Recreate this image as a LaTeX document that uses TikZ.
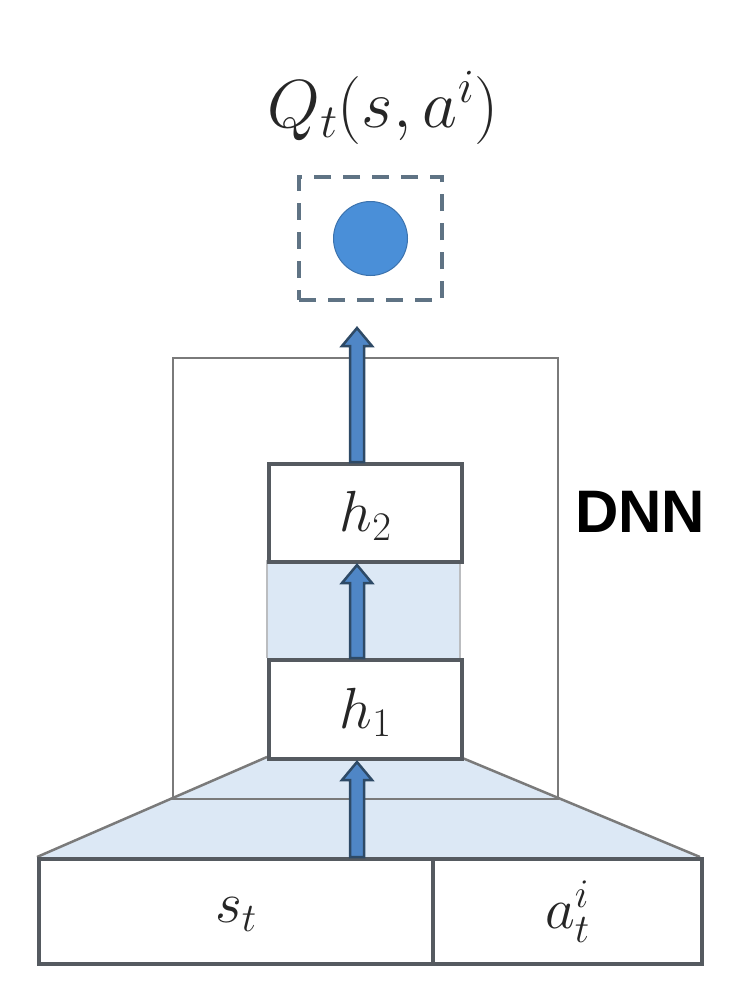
\RequirePackage{fix-cm}
\documentclass[tikz,border=0pt]{standalone}
\usepackage{fontspec}
\usetikzlibrary{calc}
\definecolor{lightfill}{HTML}{DCE8F5}
\definecolor{arrowblue}{HTML}{4F86C6}
\definecolor{arrowline}{HTML}{2E4A66}
\definecolor{boxline}{HTML}{555A60}
\definecolor{outerline}{HTML}{7A7A7A}
\definecolor{dashline}{HTML}{5F7384}
\definecolor{dotblue}{HTML}{4A8FD8}
\newfontfamily\dnnfont{Liberation Sans}
\newcommand\blockarrow[2]{%
  \path let \p1=#1, \p2=#2 in
    [draw=arrowline, fill=arrowblue, line width=2.5pt, line join=miter]
    (\x1-7pt,\y1) -- (\x1-7pt,\y2-18pt) -- (\x1-15pt,\y2-18pt) -- (\x1,\y2)
    -- (\x1+15pt,\y2-18pt) -- (\x1+7pt,\y2-18pt) -- (\x1+7pt,\y1) -- cycle;}
\begin{document}
\begin{tikzpicture}[x=1pt,y=-1pt,
  layerbox/.style={draw=boxline, line width=4pt, fill=white, inner sep=0pt},
  mathlbl/.style={font=\fontsize{58}{60}\selectfont, text=black!85},
  every node/.style={inner sep=0pt}]
\useasboundingbox (0,0) rectangle (743,989);
% outer DNN box
\node[draw=outerline, line width=2pt, fill=white, minimum width=385pt, minimum height=440pt, anchor=north west] (dnn) at (172,357) {};
% trapezoid fill
\coordinate (tl) at (37,857);
\coordinate (tr) at (700,857);
\coordinate (hl) at (267,757);
\coordinate (hr) at (460,757);
\fill[lightfill] (tl) -- (hl) -- (hr) -- (tr) -- cycle;
\draw[outerline, line width=2pt] (dnn.south west) -- (dnn.south east);
\draw[outerline, line width=2.5pt] (tl) -- (hl) (hr) -- (tr);
% between h1 and h2
\fill[lightfill] (267,560) rectangle (460,658);
\draw[boxline!40, line width=1.5pt] (267,560) -- (267,658) (460,560) -- (460,658);
% layer boxes
\node[layerbox, minimum width=193pt, minimum height=99pt, anchor=north west] (h1) at (267,658) {};
\node[mathlbl] at ($(h1.center)+(0,3)$) {$h_1$};
\node[layerbox, minimum width=193pt, minimum height=98pt, anchor=north west] (h2) at (267,462) {};
\node[mathlbl] at ($(h2.center)+(0,3)$) {$h_2$};
% input boxes
\node[layerbox, minimum width=394pt, minimum height=105pt, anchor=north west] (s) at (37,857) {};
\node[mathlbl] at ($(s.center)+(0,3)$) {$s_t$};
\node[layerbox, minimum width=269pt, minimum height=105pt, anchor=north west] (a) at (431,857) {};
\node[mathlbl] at ($(a.center)+(0,0)$) {$a_t^i$};
% output
\node[draw=dashline, dash pattern=on 17pt off 12pt, line width=4pt, minimum width=143pt, minimum height=123pt, anchor=north west] (out) at (297,175) {};
\node[circle, fill=dotblue, draw=dotblue!80!black, line width=1pt, minimum size=74pt] (dot) at (out.center) {};
\node[font=\fontsize{68}{70}\selectfont, text=black!85] (q) at (383,108) {$Q_t(s,a^i)$};
% DNN label
\node[font=\dnnfont\bfseries\fontsize{60}{62}\selectfont] (lbl) at (640,512) {DNN};
% arrows
\coordinate (a1b) at (357,857);
\coordinate (a1t) at (357,762);
\blockarrow{(a1b)}{(a1t)}
\coordinate (a2b) at (357,658);
\coordinate (a2t) at (357,565);
\blockarrow{(a2b)}{(a2t)}
\coordinate (a3b) at (357,462);
\coordinate (a3t) at (357,328);
\blockarrow{(a3b)}{(a3t)}
\end{tikzpicture}
\end{document}
